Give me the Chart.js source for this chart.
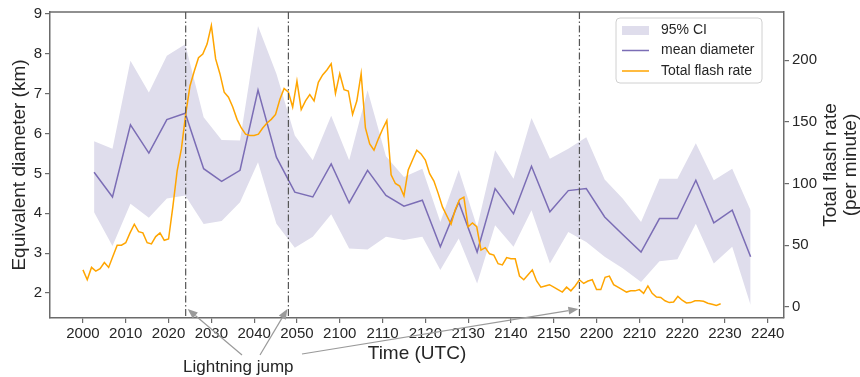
<!DOCTYPE html>
<html>
<head>
<meta charset="utf-8">
<script src="https://cdn.jsdelivr.net/npm/chart.js@4.4.0/dist/chart.umd.min.js"></script>
<style>
  html, body { margin: 0; padding: 0; background: #fff; }
</style>
</head>
<body>
<canvas id="diamChart" width="860" height="377"></canvas>
<script>
// x values are minutes after 20:00 UTC
const xTickMinutes = [0, 10, 20, 30, 40, 50, 60, 70, 80, 90, 100, 110, 120, 130, 140, 150, 160];
const xTickLabels = ['2000', '2010', '2020', '2030', '2040', '2050', '2100', '2110', '2120',
                     '2130', '2140', '2150', '2200', '2210', '2220', '2230', '2240'];
const diamTicks = [2, 3, 4, 5, 6, 7, 8, 9];
const rateTicks = [0, 50, 100, 150, 200];
const jumpTimes = [24, 48, 116];

const diamTimes = [2.6, 6.9, 11.1, 15.4, 19.6, 23.9, 28.2, 32.4, 36.7, 40.9, 45.2, 49.5, 53.7,
                   58.0, 62.2, 66.5, 70.8, 75.0, 79.3, 83.5, 87.8, 92.1, 96.3, 100.6, 104.8,
                   109.1, 113.4, 117.6, 121.9, 126.1, 130.4, 134.7, 138.9, 143.2, 147.4, 151.7, 156.0];
const meanDiameter = [5.03, 4.41, 6.22, 5.51, 6.35, 6.51, 5.12, 4.80, 5.08, 7.09, 5.41, 4.53, 4.41,
                      5.24, 4.26, 5.08, 4.45, 4.18, 4.33, 3.16, 4.28, 3.03, 4.62, 3.99, 5.18,
                      4.04, 4.57, 4.62, 3.91, 3.47, 3.03, 3.87, 3.87, 4.83, 3.76, 4.08, 2.91];
const ciUpper = [5.81, 5.62, 7.83, 7.03, 7.95, 8.24, 6.41, 5.84, 5.83, 8.70, 7.50, 5.95, 5.33,
                 6.45, 5.33, 7.09, 5.43, 4.91, 5.12, 3.78, 5.09, 3.66, 5.58, 4.87, 6.39,
                 5.37, 5.62, 5.91, 4.85, 4.37, 3.78, 4.87, 4.87, 5.76, 4.83, 5.12, 4.08];
const ciLower = [4.03, 3.18, 4.24, 3.89, 4.37, 4.45, 3.73, 3.81, 4.28, 5.28, 3.74, 3.14, 3.41,
                 3.98, 3.12, 3.09, 3.41, 3.33, 3.41, 2.58, 3.37, 2.24, 3.70, 3.16, 4.08,
                 2.74, 3.53, 3.28, 2.91, 2.62, 2.28, 2.80, 2.85, 3.74, 2.74, 3.16, 1.70];

const flashTimes = [
  0, 1, 2, 3, 4, 5, 6, 7, 8, 9, 10, 11, 12, 13, 14, 15, 16, 17, 18, 19,
  20, 21, 22, 23, 24, 25, 26, 27, 28, 29, 30, 31, 32, 33, 34, 35, 36, 37, 38, 39,
  40, 41, 42, 43, 44, 45, 46, 47, 48, 49, 50, 51, 52, 53, 54, 55, 56, 57, 58, 59,
  60, 61, 62, 63, 64, 65, 66, 67, 68, 69, 70, 71, 72, 73, 74, 75, 76, 77, 78, 79,
  80, 81, 82, 83, 84, 85, 86, 87, 88, 89, 90, 91, 92, 93, 94, 95, 96, 97, 98, 99,
  100, 101, 102, 103, 104, 105, 106, 107, 108, 109, 110, 111, 112, 113, 114, 115, 116, 117, 118, 119,
  120, 121, 122, 123, 124, 125, 126, 127, 128, 129, 130, 131, 132, 133, 134, 135, 136, 137, 138, 139,
  140, 141, 142, 143, 144, 145, 146, 147, 148, 149];
const flashRate = [
  30, 22, 32, 29, 31, 36, 32, 41, 50, 50, 52, 60, 67, 61, 60, 52, 51, 57, 60, 54,
  55, 81, 110, 128, 156, 179, 191, 202, 205, 213, 228, 201, 189, 174, 170, 162, 152, 145, 140, 139,
  139, 140, 145, 149, 152, 156, 168, 177, 174, 162, 183, 160, 167, 172, 167, 182, 188, 192, 197, 173,
  189, 176, 175, 156, 167, 189, 145, 132, 127, 136, 144, 151, 107, 100, 98, 90, 111, 119, 127, 124,
  119, 108, 102, 92, 81, 74, 67, 79, 87, 89, 65, 68, 65, 46, 48, 43, 42, 35, 34, 40,
  39, 39, 25, 22, 26, 30, 21, 16, 17, 18, 16, 14, 12, 16, 13, 17, 22, 19, 21, 22,
  14, 14, 24, 25, 18, 16, 14, 12, 13, 13, 14, 11, 17, 11, 8, 7.6, 5, 3.5, 4, 8.5,
  5.4, 3.2, 3.5, 5, 5, 4.5, 3, 2.2, 1.2, 2.5];

const FONT = "'Liberation Sans', Arial, sans-serif";
const textColor = '#262626';
const axisColor = '#6b6b6b';
const fillColor = '#dfddec';
const meanColor = '#7b6db5';
const flashColor = '#ffa500';

const pts = (xs, ys) => xs.map((x, i) => ({ x: x, y: ys[i] }));

// dash-dot jump lines, legend, right axis label, annotation
const extras = {
  id: 'extras',
  afterDatasetsDraw(chart) {
    const { ctx, chartArea: a } = chart;
    const x = chart.scales.x, yL = chart.scales.y;
    ctx.save();

    // top spine
    ctx.strokeStyle = axisColor;
    ctx.lineWidth = 1.5;
    ctx.beginPath();
    ctx.moveTo(a.left, a.top);
    ctx.lineTo(a.right, a.top);
    ctx.stroke();

    // lightning jump lines
    ctx.strokeStyle = '#555';
    ctx.lineWidth = 1.2;
    ctx.setLineDash([7, 2.5, 1.5, 2.5]);
    jumpTimes.forEach(t => {
      const px = x.getPixelForValue(t);
      ctx.beginPath();
      ctx.moveTo(px, a.top);
      ctx.lineTo(px, a.bottom);
      ctx.stroke();
    });
    ctx.setLineDash([]);

    // legend
    const lx = a.right - 168, ly = a.top + 6;
    ctx.fillStyle = 'rgba(255,255,255,0.85)';
    ctx.strokeStyle = '#d0d0d0';
    ctx.lineWidth = 1;
    ctx.beginPath();
    ctx.roundRect(lx, ly, 146, 65, 4);
    ctx.fill();
    ctx.stroke();
    ctx.fillStyle = fillColor;
    ctx.fillRect(lx + 6, ly + 8, 27, 9);
    ctx.lineWidth = 1.5;
    ctx.strokeStyle = meanColor;
    ctx.beginPath(); ctx.moveTo(lx + 6, ly + 32.5); ctx.lineTo(lx + 33, ly + 32.5); ctx.stroke();
    ctx.strokeStyle = flashColor;
    ctx.beginPath(); ctx.moveTo(lx + 6, ly + 53); ctx.lineTo(lx + 33, ly + 53); ctx.stroke();
    ctx.fillStyle = textColor;
    ctx.font = '14px ' + FONT;
    ctx.textBaseline = 'middle';
    ctx.textAlign = 'left';
    ctx.fillText('95% CI', lx + 45, ly + 12.5);
    ctx.fillText('mean diameter', lx + 45, ly + 32.5);
    ctx.fillText('Total flash rate', lx + 45, ly + 53);

    // right axis title (reads bottom to top)
    ctx.save();
    ctx.translate(a.right + 47, (a.top + a.bottom) / 2);
    ctx.rotate(-Math.PI / 2);
    ctx.font = '19px ' + FONT;
    ctx.textAlign = 'center';
    ctx.fillText('Total flash rate', 0, 0);
    ctx.fillText('(per minute)', 0, 20);
    ctx.restore();

    // "Lightning jump" annotation with arrows
    const tx = 183, ty = 367;
    ctx.font = '17px ' + FONT;
    ctx.textAlign = 'left';
    ctx.fillText('Lightning jump', tx, ty);
    const tails = [[tx + 59, ty - 12], [tx + 77, ty - 12], [tx + 119, ty - 13]];
    ctx.strokeStyle = '#9a9a9a';
    ctx.fillStyle = '#9a9a9a';
    ctx.lineWidth = 1.2;
    jumpTimes.forEach((t, i) => {
      const lineX = x.getPixelForValue(t);
      const [x0, y0] = tails[i];
      const x1 = lineX + (x0 > lineX ? 2 : -1);
      const y1 = yL.getPixelForValue(1.6);
      const ang = Math.atan2(y1 - y0, x1 - x0);
      const head = 10, half = 4;
      const c = Math.cos(ang), s = Math.sin(ang);
      ctx.beginPath();
      ctx.moveTo(x0, y0);
      ctx.lineTo(x1 - head * c, y1 - head * s);
      ctx.stroke();
      ctx.beginPath();
      ctx.moveTo(x1, y1);
      ctx.lineTo(x1 - head * c + half * s, y1 - head * s - half * c);
      ctx.lineTo(x1 - head * c - half * s, y1 - head * s + half * c);
      ctx.closePath();
      ctx.fill();
    });

    ctx.restore();
  }
};

const tickFont = { family: FONT, size: 15 };
const titleFont = { family: FONT, size: 19 };

const ctx = document.getElementById('diamChart').getContext('2d');
const diamChart = new Chart(ctx, {
  type: 'line',
  data: {
    datasets: [
      {
        label: 'Total flash rate',
        data: pts(flashTimes, flashRate),
        yAxisID: 'y1',
        borderColor: flashColor,
        borderWidth: 1.5,
        pointRadius: 0,
        tension: 0,
        fill: false
      },
      {
        label: 'mean diameter',
        data: pts(diamTimes, meanDiameter),
        yAxisID: 'y',
        borderColor: meanColor,
        borderWidth: 1.5,
        pointRadius: 0,
        tension: 0,
        fill: false
      },
      {
        label: 'CI upper',
        data: pts(diamTimes, ciUpper),
        yAxisID: 'y',
        borderWidth: 0,
        borderColor: 'rgba(0,0,0,0)',
        pointRadius: 0,
        tension: 0,
        fill: false
      },
      {
        label: '95% CI',
        data: pts(diamTimes, ciLower),
        yAxisID: 'y',
        borderWidth: 0,
        borderColor: 'rgba(0,0,0,0)',
        backgroundColor: fillColor,
        pointRadius: 0,
        tension: 0,
        fill: '-1'
      }
    ]
  },
  options: {
    responsive: false,
    animation: false,
    layout: { padding: { top: 11, left: 0, right: 0, bottom: 0 } },
    plugins: {
      legend: { display: false },
      tooltip: { enabled: false }
    },
    scales: {
      x: {
        type: 'linear',
        min: -7.7,
        max: 163.8,
        afterBuildTicks: s => { s.ticks = xTickMinutes.map(v => ({ value: v })); },
        afterFit: s => { s.height = 59; },
        ticks: {
          callback: (v, i) => xTickLabels[i],
          font: tickFont,
          color: textColor,
          padding: 2,
          maxRotation: 0,
          autoSkip: false
        },
        grid: { drawOnChartArea: false, color: axisColor, tickLength: 5, lineWidth: 1.2 },
        border: { color: axisColor, width: 1.5 },
        title: { display: true, text: 'Time (UTC)', font: titleFont, color: textColor, padding: { top: 0, bottom: 12 } }
      },
      y: {
        position: 'left',
        min: 1.375,
        max: 9.05,
        afterBuildTicks: s => { s.ticks = diamTicks.map(v => ({ value: v })); },
        afterFit: s => { s.width = 50; },
        ticks: { font: tickFont, color: textColor, padding: 3 },
        grid: { drawOnChartArea: false, color: axisColor, tickLength: 5, lineWidth: 1.2 },
        border: { color: axisColor, width: 1.5 },
        title: { display: true, text: 'Equivalent diameter (km)', font: titleFont, color: textColor, padding: { top: 8, bottom: 0 } }
      },
      y1: {
        position: 'right',
        min: -9,
        max: 239,
        afterBuildTicks: s => { s.ticks = rateTicks.map(v => ({ value: v })); },
        afterFit: s => { s.width = 76; },
        ticks: { font: tickFont, color: textColor, padding: 3 },
        grid: { drawOnChartArea: false, color: axisColor, tickLength: 5, lineWidth: 1.2 },
        border: { color: axisColor, width: 1.5 }
      }
    }
  },
  plugins: [extras]
});
</script>
</body>
</html>
